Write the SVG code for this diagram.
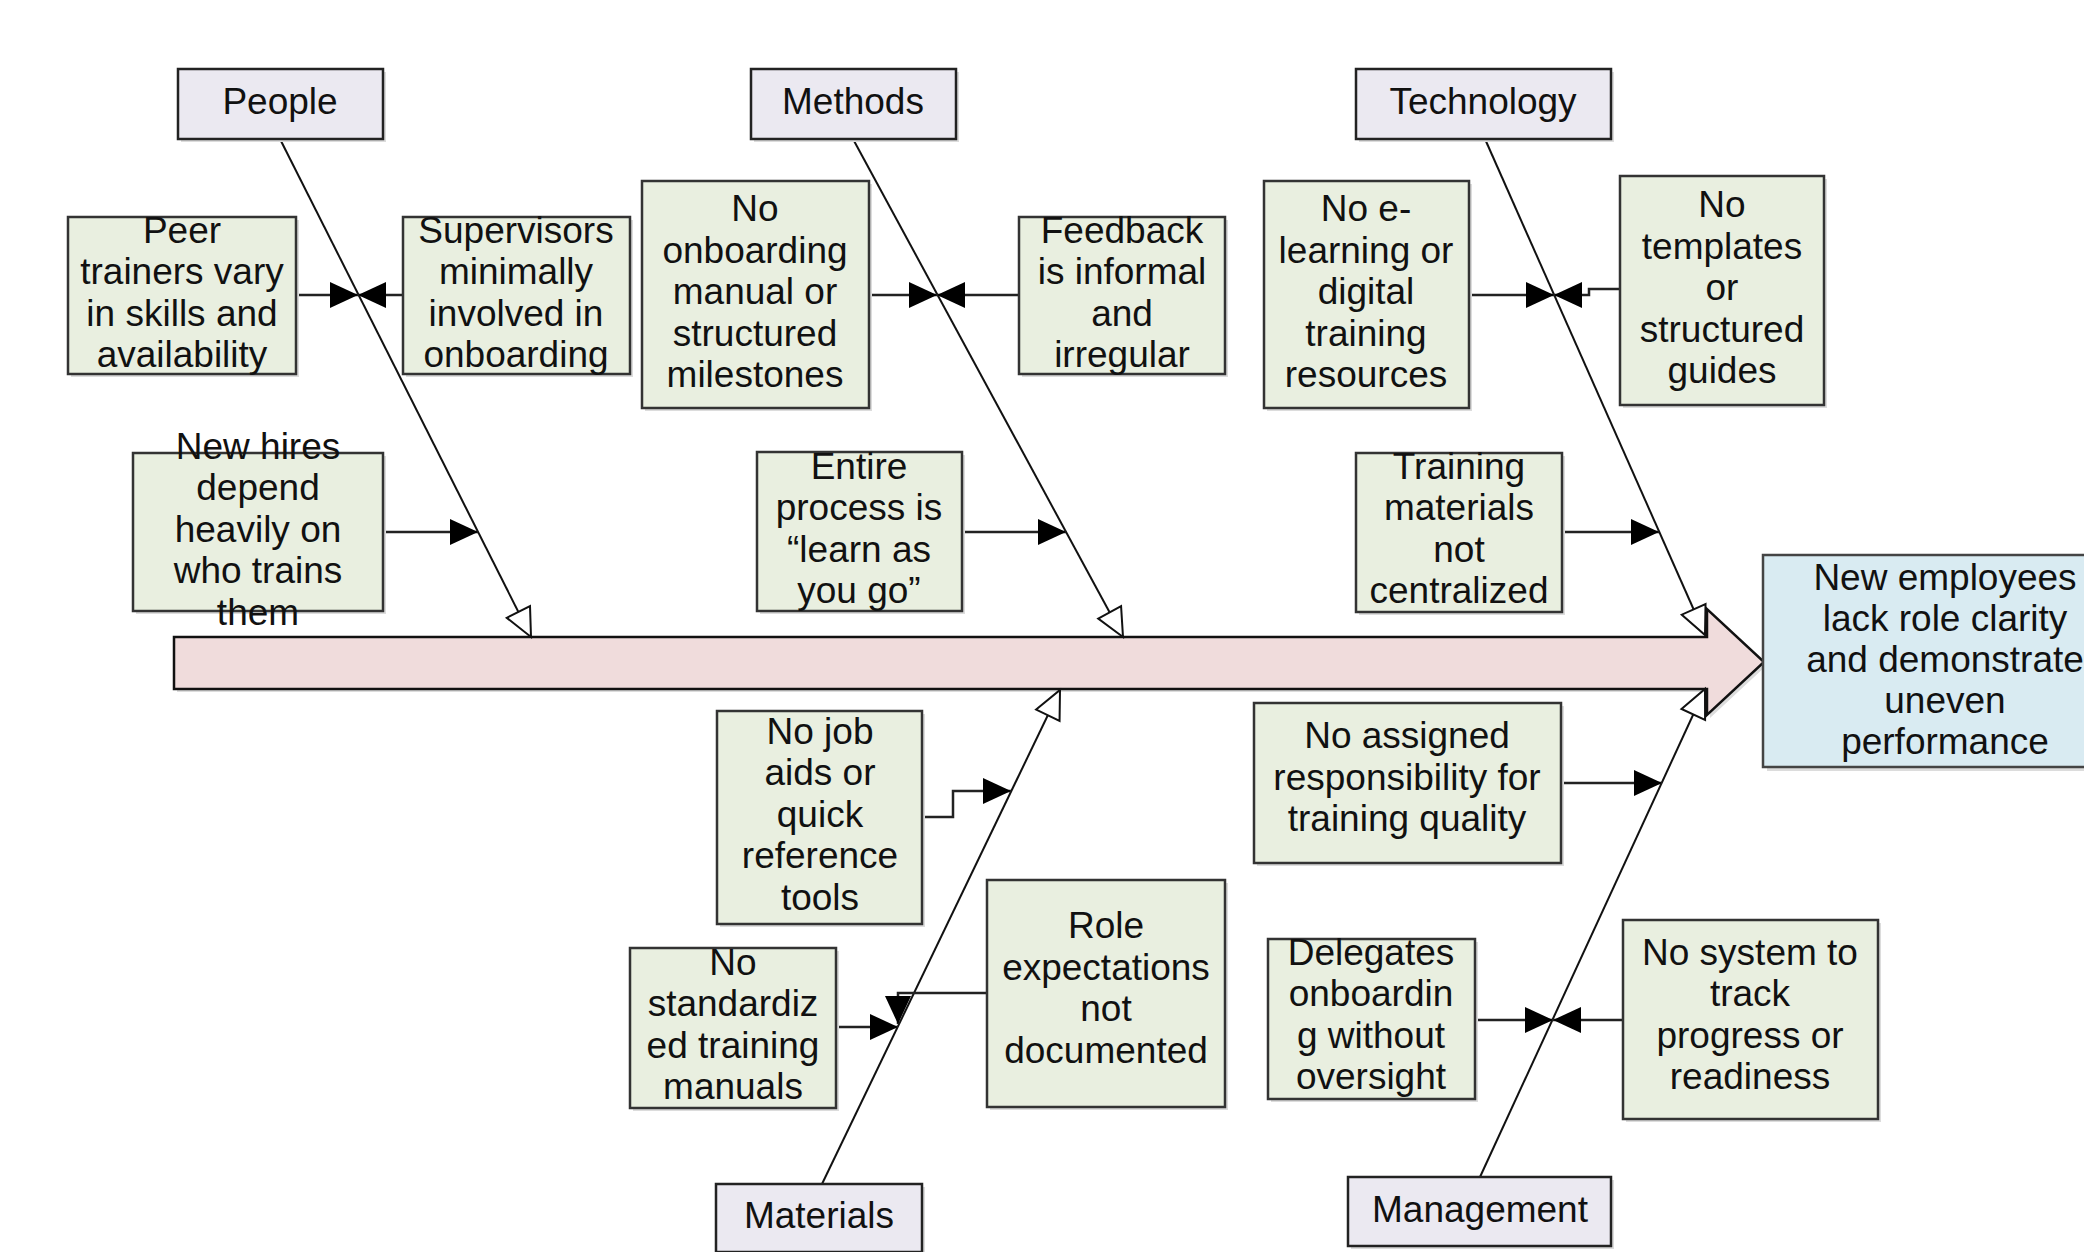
<svg xmlns="http://www.w3.org/2000/svg" width="2084" height="1252" viewBox="0 0 2084 1252">
<defs>
<style>
text{font-family:"Liberation Sans",Arial,sans-serif;font-size:37px;fill:#111;text-anchor:middle}
.cat{fill:#ebe9f1;stroke:#222;stroke-width:2.5}
.cause{fill:#e9efe0;stroke:#333;stroke-width:2.5}
.effect{fill:#d9ebf2;stroke:#444;stroke-width:2.5}
.shadow{fill:#dcdcdc}
.bone{fill:none;stroke:#111;stroke-width:2}
.sub{fill:none;stroke:#222;stroke-width:2.5}
</style>
<marker id="open" markerUnits="userSpaceOnUse" markerWidth="34" markerHeight="34" viewBox="-2 -2 34 34" refX="28" refY="13" orient="auto">
<path d="M0,0 L28,13 L0,26 z" fill="#fff" stroke="#111" stroke-width="2"/>
</marker>
<marker id="fill" markerUnits="userSpaceOnUse" markerWidth="30" markerHeight="28" viewBox="0 0 30 28" refX="28" refY="13" orient="auto">
<path d="M0,0 L28,13 L0,26 z" fill="#000"/>
</marker>
</defs>

<g id="spine">
<polygon points="177,640 1710,640 1710,612 1767,665 1710,718 1710,692 177,692" class="shadow"/>
<polygon points="174,637 1707,637 1707,609 1764,662 1707,715 1707,689 174,689" fill="#f0dcdc" stroke="#111" stroke-width="2.5"/>
</g>

<g id="connectors">
<line class="bone" x1="280" y1="139" x2="531" y2="637" marker-end="url(#open)"/>
<line class="bone" x1="853" y1="139" x2="1123" y2="637" marker-end="url(#open)"/>
<line class="bone" x1="1485" y1="139" x2="1705" y2="635" marker-end="url(#open)"/>
<line class="bone" x1="822" y1="1184" x2="1060" y2="690" marker-end="url(#open)"/>
<line class="bone" x1="1480" y1="1177" x2="1705" y2="689" marker-end="url(#open)"/>

<path class="sub" d="M296,295 H358" marker-end="url(#fill)"/>
<path class="sub" d="M403,295 H358" marker-end="url(#fill)"/>
<path class="sub" d="M383,532 H478" marker-end="url(#fill)"/>

<path class="sub" d="M869,295 H937" marker-end="url(#fill)"/>
<path class="sub" d="M1019,295 H937" marker-end="url(#fill)"/>
<path class="sub" d="M961,532 H1066" marker-end="url(#fill)"/>

<path class="sub" d="M1469,295 H1554" marker-end="url(#fill)"/>
<path class="sub" d="M1620,289 H1589 V295 H1554" marker-end="url(#fill)"/>
<path class="sub" d="M1562,532 H1659" marker-end="url(#fill)"/>

<path class="sub" d="M922,817 H953 V791 H1011" marker-end="url(#fill)"/>
<path class="sub" d="M836,1027 H898" marker-end="url(#fill)"/>
<path class="sub" d="M987,993 H898 V1024" marker-end="url(#fill)"/>

<path class="sub" d="M1561,783 H1662" marker-end="url(#fill)"/>
<path class="sub" d="M1475,1020 H1553" marker-end="url(#fill)"/>
<path class="sub" d="M1623,1020 H1553" marker-end="url(#fill)"/>
</g>

<g id="people">
<rect class="shadow" x="181" y="72" width="205" height="70"/>
<rect class="cat" x="178" y="69" width="205" height="70"/>
<text x="280" y="114">People</text>
</g>
<g id="methods">
<rect class="shadow" x="754" y="72" width="205" height="70"/>
<rect class="cat" x="751" y="69" width="205" height="70"/>
<text x="853" y="114">Methods</text>
</g>
<g id="technology">
<rect class="shadow" x="1359" y="72" width="255" height="70"/>
<rect class="cat" x="1356" y="69" width="255" height="70"/>
<text x="1483" y="114">Technology</text>
</g>
<g id="materials">
<rect class="shadow" x="719" y="1187" width="206" height="68"/>
<rect class="cat" x="716" y="1184" width="206" height="68"/>
<text x="819" y="1228">Materials</text>
</g>
<g id="management">
<rect class="shadow" x="1351" y="1180" width="263" height="69"/>
<rect class="cat" x="1348" y="1177" width="263" height="69"/>
<text x="1480" y="1222">Management</text>
</g>

<g id="effect">
<rect class="shadow" x="1767" y="559" width="360" height="212"/>
<rect class="effect" x="1763" y="555" width="360" height="212"/>
<text x="1945" y="590">New employees</text>
<text x="1945" y="631">lack role clarity</text>
<text x="1945" y="672">and demonstrate</text>
<text x="1945" y="713">uneven</text>
<text x="1945" y="754">performance</text>
</g>

<g id="peer">
<rect class="shadow" x="71" y="220" width="228" height="157"/>
<rect class="cause" x="68" y="217" width="228" height="157"/>
<text x="182" y="243">Peer</text>
<text x="182" y="284">trainers vary</text>
<text x="182" y="326">in skills and</text>
<text x="182" y="367">availability</text>
</g>
<g id="supervisors">
<rect class="shadow" x="406" y="220" width="227" height="157"/>
<rect class="cause" x="403" y="217" width="227" height="157"/>
<text x="516" y="243">Supervisors</text>
<text x="516" y="284">minimally</text>
<text x="516" y="326">involved in</text>
<text x="516" y="367">onboarding</text>
</g>
<g id="newhires">
<rect class="shadow" x="136" y="456" width="250" height="158"/>
<rect class="cause" x="133" y="453" width="250" height="158"/>
<text x="258" y="459">New hires</text>
<text x="258" y="500">depend</text>
<text x="258" y="542">heavily on</text>
<text x="258" y="583">who trains</text>
<text x="258" y="625">them</text>
</g>

<g id="onboardingmanual">
<rect class="shadow" x="645" y="184" width="227" height="227"/>
<rect class="cause" x="642" y="181" width="227" height="227"/>
<text x="755" y="221">No</text>
<text x="755" y="263">onboarding</text>
<text x="755" y="304">manual or</text>
<text x="755" y="346">structured</text>
<text x="755" y="387">milestones</text>
</g>
<g id="feedback">
<rect class="shadow" x="1022" y="220" width="206" height="157"/>
<rect class="cause" x="1019" y="217" width="206" height="157"/>
<text x="1122" y="243">Feedback</text>
<text x="1122" y="284">is informal</text>
<text x="1122" y="326">and</text>
<text x="1122" y="367">irregular</text>
</g>
<g id="entire">
<rect class="shadow" x="760" y="455" width="205" height="159"/>
<rect class="cause" x="757" y="452" width="205" height="159"/>
<text x="859" y="479">Entire</text>
<text x="859" y="520">process is</text>
<text x="859" y="562">“learn as</text>
<text x="859" y="603">you go”</text>
</g>

<g id="elearning">
<rect class="shadow" x="1267" y="184" width="205" height="227"/>
<rect class="cause" x="1264" y="181" width="205" height="227"/>
<text x="1366" y="221">No e-</text>
<text x="1366" y="263">learning or</text>
<text x="1366" y="304">digital</text>
<text x="1366" y="346">training</text>
<text x="1366" y="387">resources</text>
</g>
<g id="templates">
<rect class="shadow" x="1623" y="179" width="204" height="229"/>
<rect class="cause" x="1620" y="176" width="204" height="229"/>
<text x="1722" y="217">No</text>
<text x="1722" y="259">templates</text>
<text x="1722" y="300">or</text>
<text x="1722" y="342">structured</text>
<text x="1722" y="383">guides</text>
</g>
<g id="trainingmaterials">
<rect class="shadow" x="1359" y="456" width="206" height="159"/>
<rect class="cause" x="1356" y="453" width="206" height="159"/>
<text x="1459" y="479">Training</text>
<text x="1459" y="520">materials</text>
<text x="1459" y="562">not</text>
<text x="1459" y="603">centralized</text>
</g>

<g id="jobaids">
<rect class="shadow" x="720" y="714" width="205" height="213"/>
<rect class="cause" x="717" y="711" width="205" height="213"/>
<text x="820" y="744">No job</text>
<text x="820" y="785">aids or</text>
<text x="820" y="827">quick</text>
<text x="820" y="868">reference</text>
<text x="820" y="910">tools</text>
</g>
<g id="standardized">
<rect class="shadow" x="633" y="951" width="206" height="160"/>
<rect class="cause" x="630" y="948" width="206" height="160"/>
<text x="733" y="975">No</text>
<text x="733" y="1016">standardiz</text>
<text x="733" y="1058">ed training</text>
<text x="733" y="1099">manuals</text>
</g>
<g id="role">
<rect class="shadow" x="990" y="883" width="238" height="227"/>
<rect class="cause" x="987" y="880" width="238" height="227"/>
<text x="1106" y="938">Role</text>
<text x="1106" y="980">expectations</text>
<text x="1106" y="1021">not</text>
<text x="1106" y="1063">documented</text>
</g>

<g id="assigned">
<rect class="shadow" x="1257" y="706" width="307" height="160"/>
<rect class="cause" x="1254" y="703" width="307" height="160"/>
<text x="1407" y="748">No assigned</text>
<text x="1407" y="790">responsibility for</text>
<text x="1407" y="831">training quality</text>
</g>
<g id="delegates">
<rect class="shadow" x="1271" y="942" width="207" height="160"/>
<rect class="cause" x="1268" y="939" width="207" height="160"/>
<text x="1371" y="965">Delegates</text>
<text x="1371" y="1006">onboardin</text>
<text x="1371" y="1048">g without</text>
<text x="1371" y="1089">oversight</text>
</g>
<g id="tracking">
<rect class="shadow" x="1626" y="923" width="255" height="199"/>
<rect class="cause" x="1623" y="920" width="255" height="199"/>
<text x="1750" y="965">No system to</text>
<text x="1750" y="1006">track</text>
<text x="1750" y="1048">progress or</text>
<text x="1750" y="1089">readiness</text>
</g>
</svg>
